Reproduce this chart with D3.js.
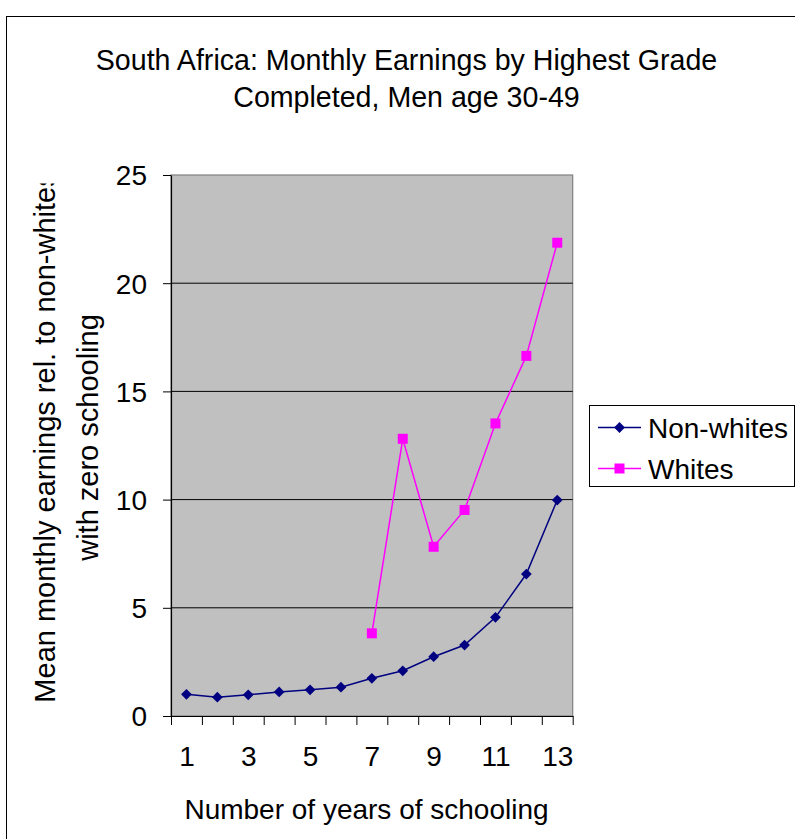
<!DOCTYPE html>
<html>
<head>
<meta charset="utf-8">
<script src="https://cdn.jsdelivr.net/npm/d3@7"></script>
<style>
  html, body { margin: 0; padding: 0; background: #fff; }
  svg text { font-family: "Liberation Sans", Arial, sans-serif; fill: #000; }
</style>
</head>
<body>
<svg id="chart" width="795" height="839"></svg>
<script>
// Years of schooling (category axis) and the two earnings series
const years = [1, 2, 3, 4, 5, 6, 7, 8, 9, 10, 11, 12, 13];
const nonWhites = [1.0, 0.87, 0.98, 1.11, 1.21, 1.33, 1.74, 2.09, 2.74, 3.28, 4.56, 6.56, 9.98];
const whiteYears = [7, 8, 9, 10, 11, 12, 13];
const whites = [3.82, 12.81, 7.82, 9.52, 13.52, 16.64, 21.87];
const yTicks = [0, 5, 10, 15, 20, 25];
const xLabelTicks = [1, 3, 5, 7, 9, 11, 13];
const seriesNames = ["Non-whites", "Whites"];

const svg = d3.select("#chart");
const FS = 28;

const plot = { left: 171, right: 572.7, top: 175, bottom: 716 };

// Outer chart frame
svg.append("rect")
  .attr("x", 6.5).attr("y", 16.5)
  .attr("width", 800).attr("height", 840)
  .attr("fill", "#fff").attr("stroke", "#000").attr("stroke-width", 1);

// Scales: category edges at half-integers, points at the band centres
const x = d3.scaleLinear().domain([0.5, 13.5]).range([plot.left, plot.right]);
const y = d3.scaleLinear().domain([0, 25]).range([plot.bottom, plot.top]);

// Plot area
svg.append("rect")
  .attr("x", plot.left).attr("y", plot.top)
  .attr("width", plot.right - plot.left).attr("height", plot.bottom - plot.top)
  .attr("fill", "#c0c0c0").attr("stroke", "#808080").attr("stroke-width", 1.2);

// Horizontal gridlines
svg.append("g").selectAll("line")
  .data(yTicks.filter(v => v > 0 && v < 25))
  .join("line")
  .attr("x1", plot.left).attr("x2", plot.right)
  .attr("y1", d => y(d)).attr("y2", d => y(d))
  .attr("stroke", "#000").attr("stroke-width", 1);

// Y axis
const yAxis = svg.append("g")
  .attr("transform", `translate(${plot.left},0)`)
  .call(d3.axisLeft(y).tickValues(yTicks).tickSize(8).tickPadding(16).tickSizeOuter(0));
yAxis.select(".domain").attr("stroke", "#000").attr("stroke-width", 1.2);
yAxis.selectAll(".tick line").attr("stroke", "#000");
yAxis.selectAll("text").style("font-size", FS + "px").attr("dy", "0.35em");

// X axis: ticks on category boundaries
const xAxis = svg.append("g")
  .attr("transform", `translate(0,${plot.bottom})`)
  .call(d3.axisBottom(x).tickValues(d3.range(0.5, 13.6, 1)).tickSize(9).tickFormat("").tickSizeOuter(0));
xAxis.select(".domain").attr("stroke", "#000").attr("stroke-width", 1.2);
xAxis.selectAll(".tick line").attr("stroke", "#000");

// X tick labels on every other category
const xLab = svg.append("g")
  .attr("transform", `translate(0,${plot.bottom})`)
  .call(d3.axisBottom(x).tickValues(xLabelTicks).tickSize(0).tickPadding(30).tickFormat(d3.format("d")));
xLab.select(".domain").remove();
xLab.selectAll("text").style("font-size", FS + "px");

// Series lines and markers
const line = d3.line().x(d => x(d[0])).y(d => y(d[1]));
const nwData = years.map((yr, i) => [yr, nonWhites[i]]);
const wData = whiteYears.map((yr, i) => [yr, whites[i]]);

svg.append("path").datum(nwData).attr("d", line)
  .attr("fill", "none").attr("stroke", "#000080").attr("stroke-width", 1.5);
svg.append("path").datum(wData).attr("d", line)
  .attr("fill", "none").attr("stroke", "#ff00ff").attr("stroke-width", 1.5);

// Diamond markers (square turned 45 degrees)
const diamond = d3.symbol().type(d3.symbolDiamond2).size(74);
svg.append("g").selectAll("path")
  .data(nwData).join("path")
  .attr("d", diamond)
  .attr("transform", d => `translate(${x(d[0])},${y(d[1])})`)
  .attr("fill", "#000080");

svg.append("g").selectAll("rect")
  .data(wData).join("rect")
  .attr("x", d => x(d[0]) - 5).attr("y", d => y(d[1]) - 5)
  .attr("width", 10).attr("height", 10)
  .attr("fill", "#ff00ff");

// Title
const title = svg.append("text").attr("text-anchor", "middle").style("font-size", "28.6px");
title.append("tspan").attr("x", 406.5).attr("y", 70).text("South Africa: Monthly Earnings by Highest Grade");
title.append("tspan").attr("x", 406.5).attr("y", 107).text("Completed, Men age 30-49");

// X axis title
svg.append("text").attr("x", 366.5).attr("y", 819)
  .attr("text-anchor", "middle").style("font-size", FS + "px")
  .text("Number of years of schooling");

// Y axis title; the first line runs past the top and is cut off
svg.append("clipPath").attr("id", "ylab-clip")
  .append("rect").attr("x", 0).attr("y", 183.5).attr("width", 160).attr("height", 660);
const ycx = 437.5;
const yLabG = svg.append("g").attr("clip-path", "url(#ylab-clip)");
yLabG.append("text")
  .attr("transform", `translate(55,${ycx}) rotate(-90)`)
  .attr("text-anchor", "middle").style("font-size", "29px")
  .text("Mean monthly earnings rel. to non-whites");
yLabG.append("text")
  .attr("transform", `translate(98,${ycx}) rotate(-90)`)
  .attr("text-anchor", "middle").style("font-size", "29px")
  .text("with zero schooling");

// Legend
const lg = svg.append("g");
lg.append("rect").attr("x", 589.5).attr("y", 405.5).attr("width", 205).attr("height", 81)
  .attr("fill", "#fff").attr("stroke", "#000").attr("stroke-width", 1);
const legendColors = ["#000080", "#ff00ff"];
const legendY = [427.5, 468.5];
seriesNames.forEach((name, i) => {
  lg.append("line").attr("x1", 598).attr("x2", 641)
    .attr("y1", legendY[i]).attr("y2", legendY[i])
    .attr("stroke", legendColors[i]).attr("stroke-width", 1.5);
  if (i === 0) {
    lg.append("path").attr("d", diamond)
      .attr("transform", `translate(619.5,${legendY[i]})`)
      .attr("fill", legendColors[i]);
  } else {
    lg.append("rect").attr("x", 614.5).attr("y", legendY[i] - 5)
      .attr("width", 10).attr("height", 10).attr("fill", legendColors[i]);
  }
  lg.append("text").attr("x", 648).attr("y", legendY[i] + 10)
    .style("font-size", FS + "px").text(name);
});
</script>
</body>
</html>
